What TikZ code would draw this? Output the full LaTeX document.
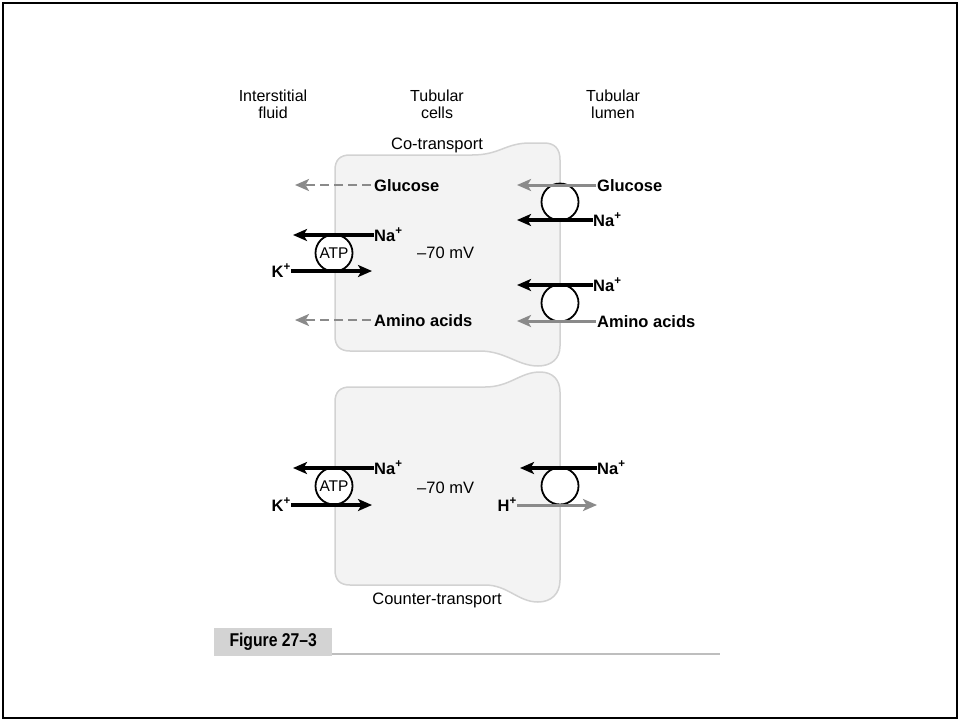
\documentclass[tikz,border=0pt]{standalone}
\usepackage{fontspec}
\setmainfont{Liberation Sans}
\newfontfamily\condfont[FakeStretch=0.85]{Liberation Sans}
\usetikzlibrary{arrows.meta}

\definecolor{cellfill}{HTML}{F3F3F3}
\definecolor{celledge}{HTML}{D2D2D2}
\definecolor{arrgray}{HTML}{8A8A8A}
\definecolor{figbox}{HTML}{D3D3D3}
\definecolor{ruleline}{HTML}{BEBEBE}

\begin{document}
\begin{tikzpicture}[x=1pt,y=-1pt,
  cell/.style={fill=cellfill, draw=celledge, line width=1.5pt},
  head/.style={font=\fontsize{16}{17}\selectfont, align=center, inner sep=0pt},
  reg/.style={font=\fontsize{16.5}{17}\selectfont, inner sep=0pt, text height=12pt, text depth=0pt},
  bld/.style={font=\fontsize{16.5}{17}\selectfont\bfseries, inner sep=0pt, text height=12pt, text depth=0pt},
  pump/.style={circle, draw=black, fill=white, line width=1.8pt, minimum size=37pt, inner sep=0pt,
    font=\fontsize{15.5}{16}\selectfont},
  blkarr/.style={draw=black, line width=3.4pt, -{Stealth[length=14pt,width=12pt,inset=3.5pt]}},
  grayarr/.style={draw=arrgray, line width=3pt, -{Stealth[length=14pt,width=12pt,inset=3.5pt]}},
  dasharr/.style={draw=arrgray, line width=2.4pt, dash pattern=on 9pt off 5pt,
    -{Stealth[length=14pt,width=12pt,inset=3.5pt]}}
]
\useasboundingbox (0,0) rectangle (960,721);

% outer frame
\draw[line width=2.6pt] (3,3) rectangle (957,718);

% column headings
\node[head] (hInt) at (273,104) {Interstitial\\fluid};
\node[head] (hCell) at (437,104) {Tubular\\cells};
\node[head] (hLum) at (613,104) {Tubular\\lumen};

% upper cell (co-transport)
\draw[cell] (350,155) -- (472,155)
  .. controls (500,155) and (505,143) .. (530,143) -- (544,143)
  .. controls (555,143) and (560,149) .. (560,160) -- (560,346)
  .. controls (560,359) and (551,366) .. (538,366)
  .. controls (518,366) and (505,351) .. (480,351) -- (350,351)
  .. controls (340,351) and (335,346) .. (335,336) -- (335,170)
  .. controls (335,160) and (340,155) .. (350,155) -- cycle;

% lower cell (counter-transport)
\draw[cell] (350,387) -- (485,387)
  .. controls (510,387) and (520,372) .. (540,372)
  .. controls (553,372) and (560,380) .. (560,392) -- (560,580)
  .. controls (560,594) and (551,602) .. (538,602)
  .. controls (518,602) and (508,585) .. (485,585) -- (350,585)
  .. controls (340,585) and (335,580) .. (335,570) -- (335,402)
  .. controls (335,392) and (340,387) .. (350,387) -- cycle;

\node[reg] (tCo) at (437,143) {Co-transport};
\node[reg] (tCounter) at (437,598) {Counter-transport};

% transporters
\node[pump] (atpTop) at (334,253) {ATP};
\node[pump] (symGlu) at (560,202) {};
\node[pump] (symAmino) at (560,303) {};
\node[pump] (atpBot) at (334,486) {ATP};
\node[pump] (antiH) at (560,486) {};

% ---- upper cell, basolateral side ----
\node[bld, anchor=west] (gluOut) at (374,185) {Glucose};
\coordinate (gluOutEnd) at (295,185);
\draw[dasharr] ([xshift=-3pt]gluOut.west) -- (gluOutEnd);

\node[bld, anchor=west] (naOutT) at (374,235) {Na\textsuperscript{+}};
\coordinate (naOutTEnd) at (293,235);
\draw[blkarr] (naOutT.west) -- (naOutTEnd);

\node[bld, anchor=east] (kInT) at (291,271) {K\textsuperscript{+}};
\coordinate (kInTEnd) at (372,271);
\draw[blkarr] (kInT.east) -- (kInTEnd);

\node[reg, anchor=west] (mvTop) at (417,252) {–70 mV};

\node[bld, anchor=west] (aaOut) at (374,320) {Amino acids};
\coordinate (aaOutEnd) at (295,320);
\draw[dasharr] ([xshift=-3pt]aaOut.west) -- (aaOutEnd);

% ---- upper cell, luminal side ----
\node[bld, anchor=west] (gluLum) at (597,185) {Glucose};
\coordinate (gluLumEnd) at (517,185);
\draw[grayarr] ([xshift=-1pt]gluLum.west) -- (gluLumEnd);

\node[bld, anchor=west] (naLum1) at (593,220) {Na\textsuperscript{+}};
\coordinate (naLum1End) at (517,220);
\draw[blkarr] (naLum1.west) -- (naLum1End);

\node[bld, anchor=west] (naLum2) at (593,285) {Na\textsuperscript{+}};
\coordinate (naLum2End) at (517,285);
\draw[blkarr] (naLum2.west) -- (naLum2End);

\node[bld, anchor=west] (aaLum) at (597,321) {Amino acids};
\coordinate (aaLumEnd) at (517,321);
\draw[grayarr] ([xshift=-1pt]aaLum.west) -- (aaLumEnd);

% ---- lower cell ----
\node[bld, anchor=west] (naOutB) at (374,468) {Na\textsuperscript{+}};
\coordinate (naOutBEnd) at (293,468);
\draw[blkarr] (naOutB.west) -- (naOutBEnd);

\node[bld, anchor=east] (kInB) at (291,505) {K\textsuperscript{+}};
\coordinate (kInBEnd) at (372,505);
\draw[blkarr] (kInB.east) -- (kInBEnd);

\node[reg, anchor=west] (mvBot) at (417,487) {–70 mV};

\node[bld, anchor=west] (naLum3) at (597,468) {Na\textsuperscript{+}};
\coordinate (naLum3End) at (520,468);
\draw[blkarr] (naLum3.west) -- (naLum3End);

\node[bld, anchor=east] (hOut) at (517,505) {H\textsuperscript{+}};
\coordinate (hOutEnd) at (597,505);
\draw[grayarr] (hOut.east) -- (hOutEnd);

% figure caption tab and rule
\draw[ruleline, line width=1.5pt] (332,654) -- (720,654);
\node[fill=figbox, minimum width=118pt, minimum height=28pt, inner sep=0pt, anchor=north west,
  font=\condfont\fontsize{18.5}{18}\selectfont\bfseries] (figTab) at (214,628) {Figure 27–3};
\end{tikzpicture}
\end{document}
